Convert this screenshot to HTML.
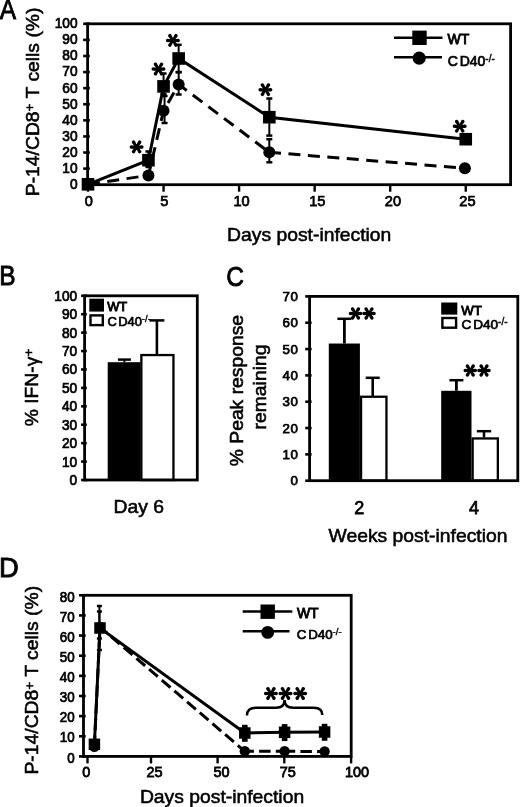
<!DOCTYPE html>
<html><head><meta charset="utf-8"><style>
html,body{margin:0;padding:0;background:#fff;width:520px;height:807px;overflow:hidden}
svg{display:block;filter:grayscale(1)}
text{font-family:"Liberation Sans", sans-serif;fill:#000}
</style></head><body>
<svg width="520" height="807" viewBox="0 0 520 807">
<rect x="87.60" y="23.80" width="423.00" height="160.90" fill="none" stroke="#000" stroke-width="2.8"/>
<line x1="83.20" y1="184.70" x2="89.80" y2="184.70" stroke="#000" stroke-width="2.6" stroke-linecap="butt"/>
<text transform="translate(77.60,189.10) scale(0.94,1)" font-size="14.6" text-anchor="end" stroke="#000" stroke-width="0.75" >0</text>
<line x1="83.20" y1="168.61" x2="89.80" y2="168.61" stroke="#000" stroke-width="2.6" stroke-linecap="butt"/>
<text transform="translate(77.60,173.01) scale(0.94,1)" font-size="14.6" text-anchor="end" stroke="#000" stroke-width="0.75" >10</text>
<line x1="83.20" y1="152.52" x2="89.80" y2="152.52" stroke="#000" stroke-width="2.6" stroke-linecap="butt"/>
<text transform="translate(77.60,156.92) scale(0.94,1)" font-size="14.6" text-anchor="end" stroke="#000" stroke-width="0.75" >20</text>
<line x1="83.20" y1="136.43" x2="89.80" y2="136.43" stroke="#000" stroke-width="2.6" stroke-linecap="butt"/>
<text transform="translate(77.60,140.83) scale(0.94,1)" font-size="14.6" text-anchor="end" stroke="#000" stroke-width="0.75" >30</text>
<line x1="83.20" y1="120.34" x2="89.80" y2="120.34" stroke="#000" stroke-width="2.6" stroke-linecap="butt"/>
<text transform="translate(77.60,124.74) scale(0.94,1)" font-size="14.6" text-anchor="end" stroke="#000" stroke-width="0.75" >40</text>
<line x1="83.20" y1="104.25" x2="89.80" y2="104.25" stroke="#000" stroke-width="2.6" stroke-linecap="butt"/>
<text transform="translate(77.60,108.65) scale(0.94,1)" font-size="14.6" text-anchor="end" stroke="#000" stroke-width="0.75" >50</text>
<line x1="83.20" y1="88.16" x2="89.80" y2="88.16" stroke="#000" stroke-width="2.6" stroke-linecap="butt"/>
<text transform="translate(77.60,92.56) scale(0.94,1)" font-size="14.6" text-anchor="end" stroke="#000" stroke-width="0.75" >60</text>
<line x1="83.20" y1="72.07" x2="89.80" y2="72.07" stroke="#000" stroke-width="2.6" stroke-linecap="butt"/>
<text transform="translate(77.60,76.47) scale(0.94,1)" font-size="14.6" text-anchor="end" stroke="#000" stroke-width="0.75" >70</text>
<line x1="83.20" y1="55.98" x2="89.80" y2="55.98" stroke="#000" stroke-width="2.6" stroke-linecap="butt"/>
<text transform="translate(77.60,60.38) scale(0.94,1)" font-size="14.6" text-anchor="end" stroke="#000" stroke-width="0.75" >80</text>
<line x1="83.20" y1="39.89" x2="89.80" y2="39.89" stroke="#000" stroke-width="2.6" stroke-linecap="butt"/>
<text transform="translate(77.60,44.29) scale(0.94,1)" font-size="14.6" text-anchor="end" stroke="#000" stroke-width="0.75" >90</text>
<line x1="83.20" y1="23.80" x2="89.80" y2="23.80" stroke="#000" stroke-width="2.6" stroke-linecap="butt"/>
<text transform="translate(77.60,28.20) scale(0.94,1)" font-size="14.6" text-anchor="end" stroke="#000" stroke-width="0.75" >100</text>
<line x1="88.00" y1="184.70" x2="88.00" y2="191.70" stroke="#000" stroke-width="2.4" stroke-linecap="butt"/>
<text transform="translate(88.80,205.90) scale(1.0,1)" font-size="14.6" text-anchor="middle" stroke="#000" stroke-width="0.75" >0</text>
<line x1="163.55" y1="184.70" x2="163.55" y2="191.70" stroke="#000" stroke-width="2.4" stroke-linecap="butt"/>
<text transform="translate(164.20,205.90) scale(1.0,1)" font-size="14.6" text-anchor="middle" stroke="#000" stroke-width="0.75" >5</text>
<line x1="239.10" y1="184.70" x2="239.10" y2="191.70" stroke="#000" stroke-width="2.4" stroke-linecap="butt"/>
<text transform="translate(241.50,205.90) scale(1.0,1)" font-size="14.6" text-anchor="middle" stroke="#000" stroke-width="0.75" >10</text>
<line x1="314.65" y1="184.70" x2="314.65" y2="191.70" stroke="#000" stroke-width="2.4" stroke-linecap="butt"/>
<text transform="translate(317.30,205.90) scale(1.0,1)" font-size="14.6" text-anchor="middle" stroke="#000" stroke-width="0.75" >15</text>
<line x1="390.20" y1="184.70" x2="390.20" y2="191.70" stroke="#000" stroke-width="2.4" stroke-linecap="butt"/>
<text transform="translate(392.90,205.90) scale(1.0,1)" font-size="14.6" text-anchor="middle" stroke="#000" stroke-width="0.75" >20</text>
<line x1="465.75" y1="184.70" x2="465.75" y2="191.70" stroke="#000" stroke-width="2.4" stroke-linecap="butt"/>
<text transform="translate(467.40,205.90) scale(1.0,1)" font-size="14.6" text-anchor="middle" stroke="#000" stroke-width="0.75" >25</text>
<text transform="translate(309.20,241.00) scale(1.05,1)" font-size="18.4" text-anchor="middle" stroke="#000" stroke-width="0.55" >Days post-infection</text>
<text transform="translate(38.70,101.90) rotate(-90) scale(1.05,1)" font-size="18.4" text-anchor="middle" stroke="#000" stroke-width="0.55">P-14/CD8<tspan font-size="13" dy="-4.5">+</tspan><tspan dy="4.5"> T cells (%)</tspan></text>
<text transform="translate(-0.30,18.60) scale(0.86,1)" font-size="28.5" stroke="#000" stroke-width="0.9">A</text>
<line x1="178.66" y1="44.80" x2="178.66" y2="72.00" stroke="#000" stroke-width="2" stroke-linecap="butt"/>
<line x1="175.66" y1="44.80" x2="181.66" y2="44.80" stroke="#000" stroke-width="2.5" stroke-linecap="butt"/>
<line x1="175.66" y1="72.00" x2="181.66" y2="72.00" stroke="#000" stroke-width="2.5" stroke-linecap="butt"/>
<line x1="269.32" y1="98.50" x2="269.32" y2="135.60" stroke="#000" stroke-width="2" stroke-linecap="butt"/>
<line x1="266.32" y1="98.50" x2="272.32" y2="98.50" stroke="#000" stroke-width="2.5" stroke-linecap="butt"/>
<line x1="266.32" y1="135.60" x2="272.32" y2="135.60" stroke="#000" stroke-width="2.5" stroke-linecap="butt"/>
<line x1="164.55" y1="96.00" x2="164.55" y2="123.00" stroke="#000" stroke-width="2" stroke-linecap="butt"/>
<line x1="161.55" y1="96.00" x2="167.55" y2="96.00" stroke="#000" stroke-width="2.5" stroke-linecap="butt"/>
<line x1="161.55" y1="123.00" x2="167.55" y2="123.00" stroke="#000" stroke-width="2.5" stroke-linecap="butt"/>
<line x1="178.66" y1="72.30" x2="178.66" y2="94.50" stroke="#000" stroke-width="2" stroke-linecap="butt"/>
<line x1="175.66" y1="72.30" x2="181.66" y2="72.30" stroke="#000" stroke-width="2.5" stroke-linecap="butt"/>
<line x1="175.66" y1="94.50" x2="181.66" y2="94.50" stroke="#000" stroke-width="2.5" stroke-linecap="butt"/>
<line x1="269.32" y1="139.20" x2="269.32" y2="162.30" stroke="#000" stroke-width="2" stroke-linecap="butt"/>
<line x1="266.32" y1="139.20" x2="272.32" y2="139.20" stroke="#000" stroke-width="2.5" stroke-linecap="butt"/>
<line x1="266.32" y1="162.30" x2="272.32" y2="162.30" stroke="#000" stroke-width="2.5" stroke-linecap="butt"/>
<line x1="148.44" y1="151.50" x2="148.44" y2="167.00" stroke="#000" stroke-width="2" stroke-linecap="butt"/>
<line x1="145.44" y1="151.50" x2="151.44" y2="151.50" stroke="#000" stroke-width="2.5" stroke-linecap="butt"/>
<line x1="145.44" y1="167.00" x2="151.44" y2="167.00" stroke="#000" stroke-width="2.5" stroke-linecap="butt"/>
<line x1="163.55" y1="73.50" x2="163.55" y2="94.00" stroke="#000" stroke-width="2" stroke-linecap="butt"/>
<line x1="160.55" y1="73.50" x2="166.55" y2="73.50" stroke="#000" stroke-width="2.5" stroke-linecap="butt"/>
<line x1="160.55" y1="94.00" x2="166.55" y2="94.00" stroke="#000" stroke-width="2.5" stroke-linecap="butt"/>
<polyline points="88.00,184.30 148.44,175.40 163.55,110.80 178.66,84.40 269.32,152.30" fill="none" stroke="#000" stroke-width="3" stroke-linejoin="miter" stroke-dasharray="12,7.5" stroke-dashoffset="0"/>
<polyline points="269.32,152.30 464.90,168.20" fill="none" stroke="#000" stroke-width="3" stroke-linejoin="miter" stroke-dasharray="12,7.5" stroke-dashoffset="0.3"/>
<polyline points="88.00,184.30 148.44,160.20 163.55,86.40 178.66,58.50 269.32,117.20 465.75,139.20" fill="none" stroke="#000" stroke-width="3" stroke-linejoin="miter"/>
<circle cx="88.00" cy="184.30" r="6" fill="#000"/>
<circle cx="148.44" cy="175.40" r="6" fill="#000"/>
<circle cx="163.55" cy="110.80" r="6" fill="#000"/>
<circle cx="178.66" cy="84.40" r="6" fill="#000"/>
<circle cx="269.32" cy="152.30" r="6" fill="#000"/>
<circle cx="464.90" cy="168.20" r="6" fill="#000"/>
<rect x="81.70" y="178.00" width="12.60" height="12.60" fill="#000"/>
<rect x="142.14" y="153.90" width="12.60" height="12.60" fill="#000"/>
<rect x="157.25" y="80.10" width="12.60" height="12.60" fill="#000"/>
<rect x="172.36" y="52.20" width="12.60" height="12.60" fill="#000"/>
<rect x="263.02" y="110.90" width="12.60" height="12.60" fill="#000"/>
<rect x="459.45" y="132.90" width="12.60" height="12.60" fill="#000"/>
<path d="M136.60,147.90 L141.85,148.65 A1.75,1.75 0 0 0 141.85,145.15 L136.60,145.90 Z M136.60,145.90 L131.35,145.15 A1.75,1.75 0 0 0 131.35,148.65 L136.60,147.90 Z M137.44,147.44 L141.12,143.16 A1.75,1.75 0 0 0 138.18,141.25 L135.76,146.36 Z M137.44,146.36 L135.02,141.25 A1.75,1.75 0 0 0 132.08,143.16 L135.76,147.44 Z M135.76,147.44 L138.18,152.55 A1.75,1.75 0 0 0 141.12,150.64 L137.44,146.36 Z M135.76,146.36 L132.08,150.64 A1.75,1.75 0 0 0 135.02,152.55 L137.44,147.44 Z" fill="#000"/>
<circle cx="136.60" cy="146.90" r="1.60" fill="#000"/>
<path d="M158.50,70.00 L163.75,70.75 A1.75,1.75 0 0 0 163.75,67.25 L158.50,68.00 Z M158.50,68.00 L153.25,67.25 A1.75,1.75 0 0 0 153.25,70.75 L158.50,70.00 Z M159.34,69.54 L163.02,65.26 A1.75,1.75 0 0 0 160.08,63.35 L157.66,68.46 Z M159.34,68.46 L156.92,63.35 A1.75,1.75 0 0 0 153.98,65.26 L157.66,69.54 Z M157.66,69.54 L160.08,74.65 A1.75,1.75 0 0 0 163.02,72.74 L159.34,68.46 Z M157.66,68.46 L153.98,72.74 A1.75,1.75 0 0 0 156.92,74.65 L159.34,69.54 Z" fill="#000"/>
<circle cx="158.50" cy="69.00" r="1.60" fill="#000"/>
<path d="M172.90,41.40 L178.15,42.15 A1.75,1.75 0 0 0 178.15,38.65 L172.90,39.40 Z M172.90,39.40 L167.65,38.65 A1.75,1.75 0 0 0 167.65,42.15 L172.90,41.40 Z M173.74,40.94 L177.42,36.66 A1.75,1.75 0 0 0 174.48,34.75 L172.06,39.86 Z M173.74,39.86 L171.32,34.75 A1.75,1.75 0 0 0 168.38,36.66 L172.06,40.94 Z M172.06,40.94 L174.48,46.05 A1.75,1.75 0 0 0 177.42,44.14 L173.74,39.86 Z M172.06,39.86 L168.38,44.14 A1.75,1.75 0 0 0 171.32,46.05 L173.74,40.94 Z" fill="#000"/>
<circle cx="172.90" cy="40.40" r="1.60" fill="#000"/>
<path d="M265.40,90.70 L270.65,91.45 A1.75,1.75 0 0 0 270.65,87.95 L265.40,88.70 Z M265.40,88.70 L260.15,87.95 A1.75,1.75 0 0 0 260.15,91.45 L265.40,90.70 Z M266.24,90.24 L269.92,85.96 A1.75,1.75 0 0 0 266.98,84.05 L264.56,89.16 Z M266.24,89.16 L263.82,84.05 A1.75,1.75 0 0 0 260.88,85.96 L264.56,90.24 Z M264.56,90.24 L266.98,95.35 A1.75,1.75 0 0 0 269.92,93.44 L266.24,89.16 Z M264.56,89.16 L260.88,93.44 A1.75,1.75 0 0 0 263.82,95.35 L266.24,90.24 Z" fill="#000"/>
<circle cx="265.40" cy="89.70" r="1.60" fill="#000"/>
<path d="M459.70,127.20 L464.95,127.95 A1.75,1.75 0 0 0 464.95,124.45 L459.70,125.20 Z M459.70,125.20 L454.45,124.45 A1.75,1.75 0 0 0 454.45,127.95 L459.70,127.20 Z M460.54,126.74 L464.22,122.46 A1.75,1.75 0 0 0 461.28,120.55 L458.86,125.66 Z M460.54,125.66 L458.12,120.55 A1.75,1.75 0 0 0 455.18,122.46 L458.86,126.74 Z M458.86,126.74 L461.28,131.85 A1.75,1.75 0 0 0 464.22,129.94 L460.54,125.66 Z M458.86,125.66 L455.18,129.94 A1.75,1.75 0 0 0 458.12,131.85 L460.54,126.74 Z" fill="#000"/>
<circle cx="459.70" cy="126.20" r="1.60" fill="#000"/>
<line x1="394.00" y1="37.80" x2="442.50" y2="37.80" stroke="#000" stroke-width="2.6" stroke-linecap="butt"/>
<rect x="412.30" y="30.60" width="14.40" height="14.40" fill="#000"/>
<line x1="394.00" y1="57.20" x2="442.00" y2="57.20" stroke="#000" stroke-width="2.6" stroke-linecap="butt"/>
<circle cx="419.20" cy="58.10" r="6.6" fill="#000"/>
<text x="447.60" y="43.90" font-size="14" text-anchor="start" font-weight="normal" stroke="#000" stroke-width="0.9">WT</text>
<text x="447.80" y="65.80" font-size="14" text-anchor="start" font-weight="normal" stroke="#000" stroke-width="0.7200000000000001">C<tspan dx="1.7">D40</tspan><tspan font-size="10" dy="-4.3" stroke-width="0.4">-/-</tspan></text>
<text transform="translate(-0.75,285.40) scale(0.86,1)" font-size="28.5" stroke="#000" stroke-width="0.9">B</text>
<line x1="81.10" y1="480.00" x2="86.80" y2="480.00" stroke="#000" stroke-width="2.6" stroke-linecap="butt"/>
<text transform="translate(77.20,485.00) scale(0.94,1)" font-size="14.6" text-anchor="end" stroke="#000" stroke-width="0.75" >0</text>
<line x1="81.10" y1="461.58" x2="86.80" y2="461.58" stroke="#000" stroke-width="2.6" stroke-linecap="butt"/>
<text transform="translate(77.20,466.58) scale(0.94,1)" font-size="14.6" text-anchor="end" stroke="#000" stroke-width="0.75" >10</text>
<line x1="81.10" y1="443.16" x2="86.80" y2="443.16" stroke="#000" stroke-width="2.6" stroke-linecap="butt"/>
<text transform="translate(77.20,448.16) scale(0.94,1)" font-size="14.6" text-anchor="end" stroke="#000" stroke-width="0.75" >20</text>
<line x1="81.10" y1="424.74" x2="86.80" y2="424.74" stroke="#000" stroke-width="2.6" stroke-linecap="butt"/>
<text transform="translate(77.20,429.74) scale(0.94,1)" font-size="14.6" text-anchor="end" stroke="#000" stroke-width="0.75" >30</text>
<line x1="81.10" y1="406.32" x2="86.80" y2="406.32" stroke="#000" stroke-width="2.6" stroke-linecap="butt"/>
<text transform="translate(77.20,411.32) scale(0.94,1)" font-size="14.6" text-anchor="end" stroke="#000" stroke-width="0.75" >40</text>
<line x1="81.10" y1="387.90" x2="86.80" y2="387.90" stroke="#000" stroke-width="2.6" stroke-linecap="butt"/>
<text transform="translate(77.20,392.90) scale(0.94,1)" font-size="14.6" text-anchor="end" stroke="#000" stroke-width="0.75" >50</text>
<line x1="81.10" y1="369.48" x2="86.80" y2="369.48" stroke="#000" stroke-width="2.6" stroke-linecap="butt"/>
<text transform="translate(77.20,374.48) scale(0.94,1)" font-size="14.6" text-anchor="end" stroke="#000" stroke-width="0.75" >60</text>
<line x1="81.10" y1="351.06" x2="86.80" y2="351.06" stroke="#000" stroke-width="2.6" stroke-linecap="butt"/>
<text transform="translate(77.20,356.06) scale(0.94,1)" font-size="14.6" text-anchor="end" stroke="#000" stroke-width="0.75" >70</text>
<line x1="81.10" y1="332.64" x2="86.80" y2="332.64" stroke="#000" stroke-width="2.6" stroke-linecap="butt"/>
<text transform="translate(77.20,337.64) scale(0.94,1)" font-size="14.6" text-anchor="end" stroke="#000" stroke-width="0.75" >80</text>
<line x1="81.10" y1="314.22" x2="86.80" y2="314.22" stroke="#000" stroke-width="2.6" stroke-linecap="butt"/>
<text transform="translate(77.20,319.22) scale(0.94,1)" font-size="14.6" text-anchor="end" stroke="#000" stroke-width="0.75" >90</text>
<line x1="81.10" y1="295.80" x2="86.80" y2="295.80" stroke="#000" stroke-width="2.6" stroke-linecap="butt"/>
<text transform="translate(77.20,300.80) scale(0.94,1)" font-size="14.6" text-anchor="end" stroke="#000" stroke-width="0.75" >100</text>
<rect x="107.70" y="362.20" width="32.90" height="117.80" fill="#000"/>
<line x1="124.40" y1="359.60" x2="124.40" y2="362.20" stroke="#000" stroke-width="2" stroke-linecap="butt"/>
<line x1="117.90" y1="359.60" x2="130.90" y2="359.60" stroke="#000" stroke-width="2.5" stroke-linecap="butt"/>
<line x1="156.90" y1="320.40" x2="156.90" y2="354.00" stroke="#000" stroke-width="2.6" stroke-linecap="butt"/>
<line x1="149.40" y1="320.40" x2="164.40" y2="320.40" stroke="#000" stroke-width="2.5" stroke-linecap="butt"/>
<rect x="141.35" y="355.05" width="32.10" height="124.95" fill="#fff" stroke="#000" stroke-width="2.3"/>
<rect x="84.60" y="295.80" width="112.70" height="184.20" fill="none" stroke="#000" stroke-width="2.8"/>
<rect x="89.30" y="298.70" width="14.70" height="12.90" fill="#000"/>
<rect x="90.50" y="315.40" width="12.30" height="9.70" fill="#fff" stroke="#000" stroke-width="2.4"/>
<text x="107.20" y="310.90" font-size="12.9" text-anchor="start" font-weight="normal" stroke="#000" stroke-width="0.9">WT</text>
<text x="107.40" y="325.80" font-size="12.9" text-anchor="start" font-weight="normal" stroke="#000" stroke-width="0.7200000000000001">C<tspan dx="1.5">D40</tspan><tspan font-size="9.5" dy="-4" stroke-width="0.4">-/-</tspan></text>
<text transform="translate(37.90,387.50) rotate(-90) scale(1.05,1)" font-size="18.4" text-anchor="middle" stroke="#000" stroke-width="0.55">% IFN-γ<tspan font-size="13" dy="-4.5">+</tspan></text>
<text transform="translate(138.80,513.10) scale(1.05,1)" font-size="18.4" text-anchor="middle" stroke="#000" stroke-width="0.55" >Day 6</text>
<text transform="translate(226.30,286.20) scale(0.86,1)" font-size="28.5" stroke="#000" stroke-width="0.9">C</text>
<line x1="305.20" y1="480.70" x2="311.60" y2="480.70" stroke="#000" stroke-width="2.6" stroke-linecap="butt"/>
<text transform="translate(298.80,485.20) scale(1.0,1)" font-size="13.3" text-anchor="end" stroke="#000" stroke-width="0.75" letter-spacing="0.8" >0</text>
<line x1="305.20" y1="454.37" x2="311.60" y2="454.37" stroke="#000" stroke-width="2.6" stroke-linecap="butt"/>
<text transform="translate(298.80,458.87) scale(1.0,1)" font-size="13.3" text-anchor="end" stroke="#000" stroke-width="0.75" letter-spacing="0.8" >10</text>
<line x1="305.20" y1="428.04" x2="311.60" y2="428.04" stroke="#000" stroke-width="2.6" stroke-linecap="butt"/>
<text transform="translate(298.80,432.54) scale(1.0,1)" font-size="13.3" text-anchor="end" stroke="#000" stroke-width="0.75" letter-spacing="0.8" >20</text>
<line x1="305.20" y1="401.71" x2="311.60" y2="401.71" stroke="#000" stroke-width="2.6" stroke-linecap="butt"/>
<text transform="translate(298.80,406.21) scale(1.0,1)" font-size="13.3" text-anchor="end" stroke="#000" stroke-width="0.75" letter-spacing="0.8" >30</text>
<line x1="305.20" y1="375.39" x2="311.60" y2="375.39" stroke="#000" stroke-width="2.6" stroke-linecap="butt"/>
<text transform="translate(298.80,379.89) scale(1.0,1)" font-size="13.3" text-anchor="end" stroke="#000" stroke-width="0.75" letter-spacing="0.8" >40</text>
<line x1="305.20" y1="349.06" x2="311.60" y2="349.06" stroke="#000" stroke-width="2.6" stroke-linecap="butt"/>
<text transform="translate(298.80,353.56) scale(1.0,1)" font-size="13.3" text-anchor="end" stroke="#000" stroke-width="0.75" letter-spacing="0.8" >50</text>
<line x1="305.20" y1="322.73" x2="311.60" y2="322.73" stroke="#000" stroke-width="2.6" stroke-linecap="butt"/>
<text transform="translate(298.80,327.23) scale(1.0,1)" font-size="13.3" text-anchor="end" stroke="#000" stroke-width="0.75" letter-spacing="0.8" >60</text>
<line x1="305.20" y1="296.40" x2="311.60" y2="296.40" stroke="#000" stroke-width="2.6" stroke-linecap="butt"/>
<text transform="translate(298.80,300.90) scale(1.0,1)" font-size="13.3" text-anchor="end" stroke="#000" stroke-width="0.75" letter-spacing="0.8" >70</text>
<rect x="328.80" y="343.53" width="31.10" height="137.17" fill="#000"/>
<line x1="344.40" y1="318.80" x2="344.40" y2="343.53" stroke="#000" stroke-width="2.8" stroke-linecap="butt"/>
<line x1="337.40" y1="318.80" x2="351.40" y2="318.80" stroke="#000" stroke-width="2.5" stroke-linecap="butt"/>
<line x1="372.70" y1="377.80" x2="372.70" y2="396.00" stroke="#000" stroke-width="2.6" stroke-linecap="butt"/>
<line x1="365.70" y1="377.80" x2="379.70" y2="377.80" stroke="#000" stroke-width="2.5" stroke-linecap="butt"/>
<rect x="361.05" y="396.75" width="25.40" height="83.95" fill="#fff" stroke="#000" stroke-width="2.3"/>
<rect x="441.20" y="390.80" width="30.30" height="89.90" fill="#000"/>
<line x1="456.40" y1="380.20" x2="456.40" y2="390.80" stroke="#000" stroke-width="2.8" stroke-linecap="butt"/>
<line x1="449.40" y1="380.20" x2="463.40" y2="380.20" stroke="#000" stroke-width="2.5" stroke-linecap="butt"/>
<line x1="484.00" y1="431.20" x2="484.00" y2="437.50" stroke="#000" stroke-width="2.6" stroke-linecap="butt"/>
<line x1="476.85" y1="431.20" x2="491.15" y2="431.20" stroke="#000" stroke-width="2.5" stroke-linecap="butt"/>
<rect x="472.65" y="438.45" width="25.20" height="42.25" fill="#fff" stroke="#000" stroke-width="2.3"/>
<rect x="309.60" y="296.40" width="208.20" height="184.30" fill="none" stroke="#000" stroke-width="2.8"/>
<path d="M355.50,314.50 L360.55,315.25 A1.75,1.75 0 0 0 360.55,311.75 L355.50,312.50 Z M355.50,312.50 L350.45,311.75 A1.75,1.75 0 0 0 350.45,315.25 L355.50,314.50 Z M356.34,314.04 L359.90,309.93 A1.75,1.75 0 0 0 356.97,308.03 L354.66,312.96 Z M356.34,312.96 L354.03,308.03 A1.75,1.75 0 0 0 351.10,309.93 L354.66,314.04 Z M354.66,314.04 L356.97,318.97 A1.75,1.75 0 0 0 359.90,317.07 L356.34,312.96 Z M354.66,312.96 L351.10,317.07 A1.75,1.75 0 0 0 354.03,318.97 L356.34,314.04 Z" fill="#000"/>
<circle cx="355.50" cy="313.50" r="1.60" fill="#000"/>
<path d="M369.00,314.50 L374.05,315.25 A1.75,1.75 0 0 0 374.05,311.75 L369.00,312.50 Z M369.00,312.50 L363.95,311.75 A1.75,1.75 0 0 0 363.95,315.25 L369.00,314.50 Z M369.84,314.04 L373.40,309.93 A1.75,1.75 0 0 0 370.47,308.03 L368.16,312.96 Z M369.84,312.96 L367.53,308.03 A1.75,1.75 0 0 0 364.60,309.93 L368.16,314.04 Z M368.16,314.04 L370.47,318.97 A1.75,1.75 0 0 0 373.40,317.07 L369.84,312.96 Z M368.16,312.96 L364.60,317.07 A1.75,1.75 0 0 0 367.53,318.97 L369.84,314.04 Z" fill="#000"/>
<circle cx="369.00" cy="313.50" r="1.60" fill="#000"/>
<path d="M470.30,371.50 L475.35,372.25 A1.75,1.75 0 0 0 475.35,368.75 L470.30,369.50 Z M470.30,369.50 L465.25,368.75 A1.75,1.75 0 0 0 465.25,372.25 L470.30,371.50 Z M471.14,371.04 L474.70,366.93 A1.75,1.75 0 0 0 471.77,365.03 L469.46,369.96 Z M471.14,369.96 L468.83,365.03 A1.75,1.75 0 0 0 465.90,366.93 L469.46,371.04 Z M469.46,371.04 L471.77,375.97 A1.75,1.75 0 0 0 474.70,374.07 L471.14,369.96 Z M469.46,369.96 L465.90,374.07 A1.75,1.75 0 0 0 468.83,375.97 L471.14,371.04 Z" fill="#000"/>
<circle cx="470.30" cy="370.50" r="1.60" fill="#000"/>
<path d="M484.00,371.50 L489.05,372.25 A1.75,1.75 0 0 0 489.05,368.75 L484.00,369.50 Z M484.00,369.50 L478.95,368.75 A1.75,1.75 0 0 0 478.95,372.25 L484.00,371.50 Z M484.84,371.04 L488.40,366.93 A1.75,1.75 0 0 0 485.47,365.03 L483.16,369.96 Z M484.84,369.96 L482.53,365.03 A1.75,1.75 0 0 0 479.60,366.93 L483.16,371.04 Z M483.16,371.04 L485.47,375.97 A1.75,1.75 0 0 0 488.40,374.07 L484.84,369.96 Z M483.16,369.96 L479.60,374.07 A1.75,1.75 0 0 0 482.53,375.97 L484.84,371.04 Z" fill="#000"/>
<circle cx="484.00" cy="370.50" r="1.60" fill="#000"/>
<rect x="441.20" y="302.50" width="16.10" height="12.10" fill="#000"/>
<rect x="442.40" y="318.00" width="13.70" height="9.70" fill="#fff" stroke="#000" stroke-width="2.4"/>
<text x="461.20" y="314.60" font-size="13.2" text-anchor="start" font-weight="normal" stroke="#000" stroke-width="0.9">WT</text>
<text x="461.40" y="328.60" font-size="13.6" text-anchor="start" font-weight="normal" stroke="#000" stroke-width="0.7200000000000001">C<tspan dx="1.9">D40</tspan><tspan font-size="10" dy="-4" stroke-width="0.4">-/-</tspan></text>
<text transform="translate(359.30,514.20) scale(1.0,1)" font-size="18" text-anchor="middle" stroke="#000" stroke-width="0.75" >2</text>
<text transform="translate(474.00,514.20) scale(1.0,1)" font-size="18" text-anchor="middle" stroke="#000" stroke-width="0.75" >4</text>
<text transform="translate(418.00,541.90) scale(1.05,1)" font-size="18.4" text-anchor="middle" stroke="#000" stroke-width="0.55" >Weeks post-infection</text>
<text transform="translate(243.20,390.60) rotate(-90) scale(1.05,1)" font-size="18.4" text-anchor="middle" stroke="#000" stroke-width="0.55">% Peak response</text>
<text transform="translate(265.50,387.00) rotate(-90) scale(1.05,1)" font-size="18.4" text-anchor="middle" stroke="#000" stroke-width="0.55">remaining</text>
<text transform="translate(-1.00,577.30) scale(0.96,1)" font-size="28.5" stroke="#000" stroke-width="0.9">D</text>
<line x1="79.00" y1="756.40" x2="85.70" y2="756.40" stroke="#000" stroke-width="2.6" stroke-linecap="butt"/>
<text transform="translate(74.60,762.60) scale(0.94,1)" font-size="14.2" text-anchor="end" stroke="#000" stroke-width="0.75" >0</text>
<line x1="79.00" y1="736.26" x2="85.70" y2="736.26" stroke="#000" stroke-width="2.6" stroke-linecap="butt"/>
<text transform="translate(74.60,742.46) scale(0.94,1)" font-size="14.2" text-anchor="end" stroke="#000" stroke-width="0.75" >10</text>
<line x1="79.00" y1="716.12" x2="85.70" y2="716.12" stroke="#000" stroke-width="2.6" stroke-linecap="butt"/>
<text transform="translate(74.60,722.33) scale(0.94,1)" font-size="14.2" text-anchor="end" stroke="#000" stroke-width="0.75" >20</text>
<line x1="79.00" y1="695.99" x2="85.70" y2="695.99" stroke="#000" stroke-width="2.6" stroke-linecap="butt"/>
<text transform="translate(74.60,702.19) scale(0.94,1)" font-size="14.2" text-anchor="end" stroke="#000" stroke-width="0.75" >30</text>
<line x1="79.00" y1="675.85" x2="85.70" y2="675.85" stroke="#000" stroke-width="2.6" stroke-linecap="butt"/>
<text transform="translate(74.60,682.05) scale(0.94,1)" font-size="14.2" text-anchor="end" stroke="#000" stroke-width="0.75" >40</text>
<line x1="79.00" y1="655.71" x2="85.70" y2="655.71" stroke="#000" stroke-width="2.6" stroke-linecap="butt"/>
<text transform="translate(74.60,661.91) scale(0.94,1)" font-size="14.2" text-anchor="end" stroke="#000" stroke-width="0.75" >50</text>
<line x1="79.00" y1="635.57" x2="85.70" y2="635.57" stroke="#000" stroke-width="2.6" stroke-linecap="butt"/>
<text transform="translate(74.60,641.77) scale(0.94,1)" font-size="14.2" text-anchor="end" stroke="#000" stroke-width="0.75" >60</text>
<line x1="79.00" y1="615.44" x2="85.70" y2="615.44" stroke="#000" stroke-width="2.6" stroke-linecap="butt"/>
<text transform="translate(74.60,621.64) scale(0.94,1)" font-size="14.2" text-anchor="end" stroke="#000" stroke-width="0.75" >70</text>
<line x1="79.00" y1="595.30" x2="85.70" y2="595.30" stroke="#000" stroke-width="2.6" stroke-linecap="butt"/>
<text transform="translate(74.60,601.50) scale(0.94,1)" font-size="14.2" text-anchor="end" stroke="#000" stroke-width="0.75" >80</text>
<line x1="87.50" y1="756.40" x2="87.50" y2="763.40" stroke="#000" stroke-width="2.4" stroke-linecap="butt"/>
<text transform="translate(86.30,776.50) scale(1.05,1)" font-size="13.8" text-anchor="middle" stroke="#000" stroke-width="0.75" >0</text>
<line x1="151.00" y1="756.40" x2="151.00" y2="763.40" stroke="#000" stroke-width="2.4" stroke-linecap="butt"/>
<text transform="translate(154.60,776.50) scale(1.05,1)" font-size="13.8" text-anchor="middle" stroke="#000" stroke-width="0.75" >25</text>
<line x1="217.60" y1="756.40" x2="217.60" y2="763.40" stroke="#000" stroke-width="2.4" stroke-linecap="butt"/>
<text transform="translate(221.50,776.50) scale(1.05,1)" font-size="13.8" text-anchor="middle" stroke="#000" stroke-width="0.75" >50</text>
<line x1="284.30" y1="756.40" x2="284.30" y2="763.40" stroke="#000" stroke-width="2.4" stroke-linecap="butt"/>
<text transform="translate(287.80,776.50) scale(1.05,1)" font-size="13.8" text-anchor="middle" stroke="#000" stroke-width="0.75" >75</text>
<line x1="351.10" y1="756.40" x2="351.10" y2="763.40" stroke="#000" stroke-width="2.4" stroke-linecap="butt"/>
<text transform="translate(357.00,776.50) scale(1.05,1)" font-size="13.8" text-anchor="middle" stroke="#000" stroke-width="0.75" >100</text>
<rect x="83.50" y="595.30" width="267.70" height="161.10" fill="none" stroke="#000" stroke-width="2.8"/>
<text transform="translate(222.00,802.70) scale(1.05,1)" font-size="18.4" text-anchor="middle" stroke="#000" stroke-width="0.55" >Days post-infection</text>
<text transform="translate(38.40,680.20) rotate(-90) scale(1.05,1)" font-size="18.4" text-anchor="middle" stroke="#000" stroke-width="0.55">P-14/CD8<tspan font-size="13" dy="-4.5">+</tspan><tspan dy="4.5"> T cells (%)</tspan></text>
<line x1="99.40" y1="606.00" x2="99.40" y2="650.00" stroke="#000" stroke-width="2" stroke-linecap="butt"/>
<line x1="96.90" y1="606.00" x2="101.90" y2="606.00" stroke="#000" stroke-width="2.5" stroke-linecap="butt"/>
<line x1="96.90" y1="650.00" x2="101.90" y2="650.00" stroke="#000" stroke-width="2.5" stroke-linecap="butt"/>
<line x1="99.40" y1="611.50" x2="99.40" y2="638.50" stroke="#000" stroke-width="2" stroke-linecap="butt"/>
<line x1="96.90" y1="611.50" x2="101.90" y2="611.50" stroke="#000" stroke-width="2.5" stroke-linecap="butt"/>
<line x1="96.90" y1="638.50" x2="101.90" y2="638.50" stroke="#000" stroke-width="2.5" stroke-linecap="butt"/>
<rect x="242.00" y="724.80" width="5.60" height="17.00" fill="#000"/>
<rect x="281.80" y="724.10" width="5.60" height="17.00" fill="#000"/>
<rect x="321.80" y="723.80" width="5.60" height="17.00" fill="#000"/>
<polyline points="94.40,746.90 100.00,627.00" fill="none" stroke="#000" stroke-width="3" stroke-linejoin="miter" stroke-dasharray="11.5,5.2" stroke-dashoffset="0"/>
<polyline points="100.00,627.00 244.80,751.30" fill="none" stroke="#000" stroke-width="3" stroke-linejoin="miter" stroke-dasharray="11.5,5.2" stroke-dashoffset="2.1"/>
<polyline points="244.80,751.30 284.60,751.30" fill="none" stroke="#000" stroke-width="3" stroke-linejoin="miter" stroke-dasharray="11.5,5.2" stroke-dashoffset="2.4"/>
<polyline points="284.60,751.30 324.60,751.50" fill="none" stroke="#000" stroke-width="3" stroke-linejoin="miter" stroke-dasharray="11.5,5.2" stroke-dashoffset="0.9"/>
<polyline points="94.40,744.30 100.00,628.00 244.80,733.00 284.60,732.30 324.60,732.00" fill="none" stroke="#000" stroke-width="3" stroke-linejoin="miter"/>
<circle cx="94.40" cy="746.90" r="5.2" fill="#000"/>
<circle cx="100.00" cy="627.00" r="5.2" fill="#000"/>
<circle cx="244.80" cy="751.30" r="5.2" fill="#000"/>
<circle cx="284.60" cy="751.30" r="5.2" fill="#000"/>
<circle cx="324.60" cy="751.50" r="5.2" fill="#000"/>
<rect x="88.65" y="738.55" width="11.50" height="11.50" fill="#000"/>
<rect x="94.25" y="622.25" width="11.50" height="11.50" fill="#000"/>
<rect x="239.05" y="727.25" width="11.50" height="11.50" fill="#000"/>
<rect x="278.85" y="726.55" width="11.50" height="11.50" fill="#000"/>
<rect x="318.85" y="726.25" width="11.50" height="11.50" fill="#000"/>
<path d="M247,715.4 Q247,707.7 256,707.7 L276,707.7 Q284.6,707.7 284.6,700 Q284.6,707.7 293,707.7 L314,707.7 Q322.3,707.7 322.3,715" fill="none" stroke="#000" stroke-width="2.5"/>
<path d="M270.90,694.50 L276.15,695.25 A1.75,1.75 0 0 0 276.15,691.75 L270.90,692.50 Z M270.90,692.50 L265.65,691.75 A1.75,1.75 0 0 0 265.65,695.25 L270.90,694.50 Z M271.74,694.04 L275.42,689.76 A1.75,1.75 0 0 0 272.48,687.85 L270.06,692.96 Z M271.74,692.96 L269.32,687.85 A1.75,1.75 0 0 0 266.38,689.76 L270.06,694.04 Z M270.06,694.04 L272.48,699.15 A1.75,1.75 0 0 0 275.42,697.24 L271.74,692.96 Z M270.06,692.96 L266.38,697.24 A1.75,1.75 0 0 0 269.32,699.15 L271.74,694.04 Z" fill="#000"/>
<circle cx="270.90" cy="693.50" r="1.60" fill="#000"/>
<path d="M285.50,694.50 L290.75,695.25 A1.75,1.75 0 0 0 290.75,691.75 L285.50,692.50 Z M285.50,692.50 L280.25,691.75 A1.75,1.75 0 0 0 280.25,695.25 L285.50,694.50 Z M286.34,694.04 L290.02,689.76 A1.75,1.75 0 0 0 287.08,687.85 L284.66,692.96 Z M286.34,692.96 L283.92,687.85 A1.75,1.75 0 0 0 280.98,689.76 L284.66,694.04 Z M284.66,694.04 L287.08,699.15 A1.75,1.75 0 0 0 290.02,697.24 L286.34,692.96 Z M284.66,692.96 L280.98,697.24 A1.75,1.75 0 0 0 283.92,699.15 L286.34,694.04 Z" fill="#000"/>
<circle cx="285.50" cy="693.50" r="1.60" fill="#000"/>
<path d="M300.20,694.50 L305.45,695.25 A1.75,1.75 0 0 0 305.45,691.75 L300.20,692.50 Z M300.20,692.50 L294.95,691.75 A1.75,1.75 0 0 0 294.95,695.25 L300.20,694.50 Z M301.04,694.04 L304.72,689.76 A1.75,1.75 0 0 0 301.78,687.85 L299.36,692.96 Z M301.04,692.96 L298.62,687.85 A1.75,1.75 0 0 0 295.68,689.76 L299.36,694.04 Z M299.36,694.04 L301.78,699.15 A1.75,1.75 0 0 0 304.72,697.24 L301.04,692.96 Z M299.36,692.96 L295.68,697.24 A1.75,1.75 0 0 0 298.62,699.15 L301.04,694.04 Z" fill="#000"/>
<circle cx="300.20" cy="693.50" r="1.60" fill="#000"/>
<line x1="242.70" y1="611.50" x2="292.30" y2="611.50" stroke="#000" stroke-width="2.6" stroke-linecap="butt"/>
<rect x="260.50" y="604.50" width="14.40" height="14.40" fill="#000"/>
<line x1="242.70" y1="631.20" x2="289.50" y2="631.20" stroke="#000" stroke-width="2.6" stroke-linecap="butt"/>
<circle cx="267.70" cy="632.40" r="6.4" fill="#000"/>
<text x="296.90" y="617.50" font-size="14" text-anchor="start" font-weight="normal" stroke="#000" stroke-width="0.9">WT</text>
<text x="296.80" y="639.20" font-size="13.3" text-anchor="start" font-weight="normal" stroke="#000" stroke-width="0.7200000000000001">C<tspan dx="1.8">D40</tspan><tspan font-size="9.6" dy="-4.3" stroke-width="0.4">-/-</tspan></text>
</svg>
</body></html>
